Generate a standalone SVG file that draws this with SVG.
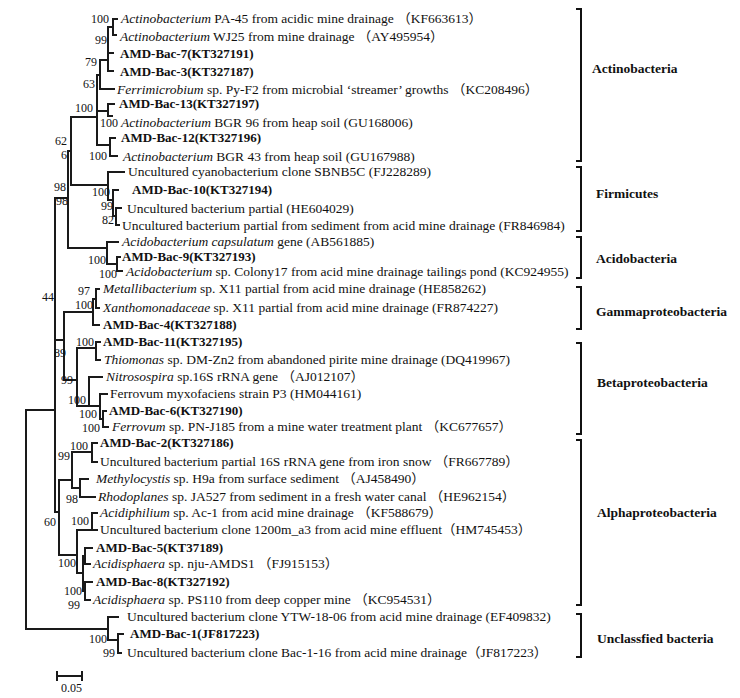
<svg xmlns="http://www.w3.org/2000/svg" width="740" height="698" viewBox="0 0 740 698">
<style>
.t{font-family:"Liberation Serif","Noto Sans CJK SC",serif;font-size:13.5px;fill:#111}
.b{font-weight:bold;font-size:13px}
.i{font-style:italic}
.bs{font-family:"Liberation Serif",serif;font-size:12px;fill:#111;text-anchor:end}
.e{fill:none;stroke:#1a1a1a;stroke-width:2;stroke-linecap:square}
.br{fill:none;stroke:#111;stroke-width:2}
.cl{font-family:"Liberation Serif",serif;font-size:13.5px;font-weight:bold;fill:#111}
</style>
<rect width="740" height="698" fill="#fff"/>
<g id="connectors">
<path class="e" d="M113 19V35M113 19H117M113 35H116"/>
<path class="e" d="M108 27V71M108 27H113M108 53H113M108 71H113"/>
<path class="e" d="M100 60V89M100 60H108M100 89H114"/>
<path class="e" d="M97 75V145M97 75H100M97 111H108M97 145H110"/>
<path class="e" d="M108 104V116M108 104H114M108 116H112"/>
<path class="e" d="M110 138V156M110 138H115M110 156H117"/>
<path class="e" d="M71 117V185M71 117H97M71 185H108"/>
<path class="e" d="M68 151V248M68 151H71M68 248H107"/>
<path class="e" d="M108 172V200M108 172H124M108 200H113"/>
<path class="e" d="M113 190V216M113 190H118M113 216H116"/>
<path class="e" d="M116 208V225M116 208H121M116 225H119"/>
<path class="e" d="M107 242V264M107 242H118M107 264H117"/>
<path class="e" d="M117 257V271M117 257H120M117 271H122"/>
<path class="e" d="M55 198V512M55 198H68M55 340H64M55 512H59"/>
<path class="e" d="M64 312V380M64 312H93M64 380H77"/>
<path class="e" d="M93 299V325M93 299H96M93 325H99"/>
<path class="e" d="M96 289V308M96 289H99M96 308H99"/>
<path class="e" d="M77 348V406M77 348H96M77 406H89"/>
<path class="e" d="M96 342V360M96 342H100M96 360H100"/>
<path class="e" d="M89 377V406M89 377H102M89 406H100"/>
<path class="e" d="M100 394V419M100 394H107M100 419H103"/>
<path class="e" d="M103 411V427M103 411H106M103 427H108"/>
<path class="e" d="M92 443V462M92 443H97M92 462H97"/>
<path class="e" d="M72 452V488M72 452H92M72 488H80"/>
<path class="e" d="M80 479V497M80 479H88M80 497H95"/>
<path class="e" d="M59 480V555M59 480H72M59 555H77"/>
<path class="e" d="M77 530V573M77 530H92M77 573H83"/>
<path class="e" d="M92 513V530M92 513H97M92 530H97"/>
<path class="e" d="M83 556V591M83 556H85M83 591H85"/>
<path class="e" d="M85 548V564M85 548H92M85 564H90"/>
<path class="e" d="M85 582V600M85 582H92M85 600H90"/>
<path class="e" d="M26 410V629M26 410H55M26 629H108"/>
<path class="e" d="M108 617V640M108 617H118M108 640H118"/>
<path class="e" d="M118 634V653M118 634H123M118 653H121"/>
</g>
<g id="bootstrap">
<text class="bs" x="109" y="23">100</text>
<text class="bs" x="107" y="44">99</text>
<text class="bs" x="97" y="66">79</text>
<text class="bs" x="95" y="88">63</text>
<text class="bs" x="93" y="112">100</text>
<text class="bs" x="118" y="127">100</text>
<text class="bs" x="67" y="145">62</text>
<text class="bs" x="67" y="159">6</text>
<text class="bs" x="107" y="160">100</text>
<text class="bs" x="110" y="196">100</text>
<text class="bs" x="113" y="210">99</text>
<text class="bs" x="114" y="224">82</text>
<text class="bs" x="66" y="191">98</text>
<text class="bs" x="68" y="205">98</text>
<text class="bs" x="106" y="264">100</text>
<text class="bs" x="117" y="278">100</text>
<text class="bs" x="54" y="301">44</text>
<text class="bs" x="90" y="295">97</text>
<text class="bs" x="93" y="309">100</text>
<text class="bs" x="66" y="357">89</text>
<text class="bs" x="94" y="346">100</text>
<text class="bs" x="73" y="384">99</text>
<text class="bs" x="86" y="404">100</text>
<text class="bs" x="97" y="418">100</text>
<text class="bs" x="100" y="432">100</text>
<text class="bs" x="88" y="450">100</text>
<text class="bs" x="70" y="460">99</text>
<text class="bs" x="78" y="503">98</text>
<text class="bs" x="56" y="526">60</text>
<text class="bs" x="89" y="525">100</text>
<text class="bs" x="76" y="567">100</text>
<text class="bs" x="82" y="595">100</text>
<text class="bs" x="80" y="609">99</text>
<text class="bs" x="107" y="643">100</text>
<text class="bs" x="115" y="657">99</text>
</g>
<g id="leaf-01"><text class="t" x="121" y="23"><tspan class="i">Actinobacterium</tspan> PA-45 from acidic mine drainage （KF663613）</text></g>
<g id="leaf-02"><text class="t" x="120" y="41"><tspan class="i">Actinobacterium</tspan> WJ25 from mine drainage （AY495954）</text></g>
<g id="leaf-03"><text class="t b" x="120" y="58">AMD-Bac-7(KT327191)</text></g>
<g id="leaf-04"><text class="t b" x="120" y="76">AMD-Bac-3(KT327187)</text></g>
<g id="leaf-05"><text class="t" x="117" y="94"><tspan class="i">Ferrimicrobium</tspan> sp. Py-F2 from microbial ‘streamer’ growths （KC208496）</text></g>
<g id="leaf-06"><text class="t b" x="119" y="108">AMD-Bac-13(KT327197)</text></g>
<g id="leaf-07"><text class="t" x="121" y="127"><tspan class="i">Actinobacterium</tspan> BGR 96 from heap soil (GU168006)</text></g>
<g id="leaf-08"><text class="t b" x="121" y="142">AMD-Bac-12(KT327196)</text></g>
<g id="leaf-09"><text class="t" x="123" y="161"><tspan class="i">Actinobacterium</tspan> BGR 43 from heap soil (GU167988)</text></g>
<g id="leaf-10"><text class="t" x="128" y="176">Uncultured cyanobacterium clone SBNB5C (FJ228289)</text></g>
<g id="leaf-11"><text class="t b" x="132" y="194">AMD-Bac-10(KT327194)</text></g>
<g id="leaf-12"><text class="t" x="127" y="213">Uncultured bacterium partial (HE604029)</text></g>
<g id="leaf-13"><text class="t" x="122" y="230">Uncultured bacterium partial from sediment from acid mine drainage (FR846984)</text></g>
<g id="leaf-14"><text class="t" x="122" y="246"><tspan class="i">Acidobacterium capsulatum</tspan> gene (AB561885)</text></g>
<g id="leaf-15"><text class="t b" x="122" y="261">AMD-Bac-9(KT327193)</text></g>
<g id="leaf-16"><text class="t" x="126" y="276"><tspan class="i">Acidobacterium</tspan> sp. Colony17 from acid mine drainage tailings pond (KC924955)</text></g>
<g id="leaf-17"><text class="t" x="103" y="293"><tspan class="i">Metallibacterium</tspan> sp. X11 partial from acid mine drainage (HE858262)</text></g>
<g id="leaf-18"><text class="t" x="103" y="312"><tspan class="i">Xanthomonadaceae</tspan> sp. X11 partial from acid mine drainage (FR874227)</text></g>
<g id="leaf-19"><text class="t b" x="103" y="329">AMD-Bac-4(KT327188)</text></g>
<g id="leaf-20"><text class="t b" x="103" y="346">AMD-Bac-11(KT327195)</text></g>
<g id="leaf-21"><text class="t" x="104" y="364"><tspan class="i">Thiomonas</tspan> sp. DM-Zn2 from abandoned pirite mine drainage (DQ419967)</text></g>
<g id="leaf-22"><text class="t" x="106" y="381"><tspan class="i">Nitrosospira</tspan> sp.16S rRNA gene （AJ012107）</text></g>
<g id="leaf-23"><text class="t" x="110" y="398">Ferrovum myxofaciens strain P3 (HM044161)</text></g>
<g id="leaf-24"><text class="t b" x="109" y="415">AMD-Bac-6(KT327190)</text></g>
<g id="leaf-25"><text class="t" x="112" y="431"><tspan class="i">Ferrovum</tspan> sp. PN-J185 from a mine water treatment plant （KC677657）</text></g>
<g id="leaf-26"><text class="t b" x="100" y="447">AMD-Bac-2(KT327186)</text></g>
<g id="leaf-27"><text class="t" x="100" y="466">Uncultured bacterium partial 16S rRNA gene from iron snow （FR667789）</text></g>
<g id="leaf-28"><text class="t" x="96" y="483"><tspan class="i">Methylocystis</tspan> sp. H9a from surface sediment （AJ458490）</text></g>
<g id="leaf-29"><text class="t" x="98" y="501"><tspan class="i">Rhodoplanes</tspan> sp. JA527 from sediment in a fresh water canal （HE962154）</text></g>
<g id="leaf-30"><text class="t" x="100" y="517"><tspan class="i">Acidiphilium</tspan> sp. Ac-1 from acid mine drainage （KF588679）</text></g>
<g id="leaf-31"><text class="t" x="100" y="534">Uncultured bacterium clone 1200m_a3 from acid mine effluent（HM745453）</text></g>
<g id="leaf-32"><text class="t b" x="96" y="552">AMD-Bac-5(KT37189)</text></g>
<g id="leaf-33"><text class="t" x="93" y="568"><tspan class="i">Acidisphaera</tspan> sp. nju-AMDS1 （FJ915153）</text></g>
<g id="leaf-34"><text class="t b" x="96" y="586">AMD-Bac-8(KT327192)</text></g>
<g id="leaf-35"><text class="t" x="93" y="604"><tspan class="i">Acidisphaera</tspan> sp. PS110 from deep copper mine （KC954531）</text></g>
<g id="leaf-36"><text class="t" x="127" y="621">Uncultured bacterium clone YTW-18-06 from acid mine drainage (EF409832)</text></g>
<g id="leaf-37"><text class="t b" x="130" y="638">AMD-Bac-1(JF817223)</text></g>
<g id="leaf-38"><text class="t" x="127" y="657">Uncultured bacterium clone Bac-1-16 from acid mine drainage（JF817223）</text></g>
<g id="clades">
<path class="br" d="M576 9H581V161H576"/>
<path class="br" d="M576 167H581V231H576"/>
<path class="br" d="M576 237H581V278H576"/>
<path class="br" d="M576 287H581V329H576"/>
<path class="br" d="M576 343H581V434H576"/>
<path class="br" d="M576 440H581V605H576"/>
<path class="br" d="M576 614H581V657H576"/>
<text class="cl" x="592" y="73">Actinobacteria</text>
<text class="cl" x="596" y="198">Firmicutes</text>
<text class="cl" x="596" y="263">Acidobacteria</text>
<text class="cl" x="596" y="316">Gammaproteobacteria</text>
<text class="cl" x="597" y="387">Betaproteobacteria</text>
<text class="cl" x="597" y="517">Alphaproteobacteria</text>
<text class="cl" x="597" y="643">Unclassfied bacteria</text>
</g>
<g id="scale">
<path class="e" d="M57 676H82M57 672V680M82 672V680" stroke-width="1.5"/>
<text class="bs" x="82" y="692">0.05</text>
</g>
</svg>
